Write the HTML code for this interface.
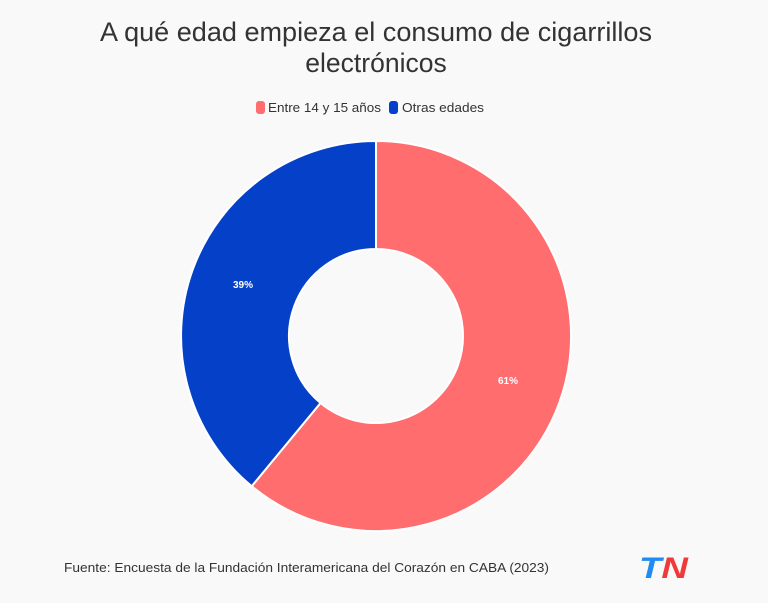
<!DOCTYPE html>
<html><head><meta charset="utf-8"><style>
html,body{margin:0;padding:0;background:#f9f9f9;}
body{width:768px;height:598px;overflow:hidden;font-family:"Liberation Sans",sans-serif;}
</style></head><body>
<svg width="768" height="598" viewBox="0 0 768 598" xmlns="http://www.w3.org/2000/svg">
<rect width="768" height="598" fill="#f9f9f9"/>
<text x="376" y="41" text-anchor="middle" font-family="Liberation Sans, sans-serif" font-size="26.5" fill="#333" textLength="552" lengthAdjust="spacingAndGlyphs">A qué edad empieza el consumo de cigarrillos</text>
<text x="376" y="72" text-anchor="middle" font-family="Liberation Sans, sans-serif" font-size="26.5" fill="#333">electrónicos</text>
<rect x="256" y="101" width="9" height="13" rx="3" fill="#ff6d6f"/>
<text x="268" y="112" font-family="Liberation Sans, sans-serif" font-size="13" fill="#333" textLength="113" lengthAdjust="spacingAndGlyphs">Entre 14 y 15 años</text>
<rect x="389" y="101" width="9" height="13" rx="3" fill="#0540c8"/>
<text x="402" y="112" font-family="Liberation Sans, sans-serif" font-size="13" fill="#333" textLength="82" lengthAdjust="spacingAndGlyphs">Otras edades</text>
<path d="M376,141 A195,195 0 1 1 251.7,486.2 L320.5,403 A87,87 0 1 0 376,249 Z" fill="#ff6d6f" stroke="#fff" stroke-width="2" stroke-linejoin="round"/>
<path d="M251.7,486.2 A195,195 0 0 1 376,141 L376,249 A87,87 0 0 0 320.5,403 Z" fill="#0540c8" stroke="#fff" stroke-width="2" stroke-linejoin="round"/>
<text x="508" y="384" text-anchor="middle" font-family="Liberation Sans, sans-serif" font-size="10" font-weight="bold" fill="#fff">61%</text>
<text x="243" y="288" text-anchor="middle" font-family="Liberation Sans, sans-serif" font-size="10" font-weight="bold" fill="#fff">39%</text>
<text x="64" y="572" font-family="Liberation Sans, sans-serif" font-size="13" fill="#333" textLength="485" lengthAdjust="spacingAndGlyphs">Fuente: Encuesta de la Fundación Interamericana del Corazón en CABA (2023)</text>
<text x="639" y="578" font-family="Liberation Sans, sans-serif" font-size="30" font-weight="bold" font-style="italic" fill="#1e8cf0" textLength="49" lengthAdjust="spacingAndGlyphs">T<tspan fill="#f03a3a">N</tspan></text>
</svg>
</body></html>
